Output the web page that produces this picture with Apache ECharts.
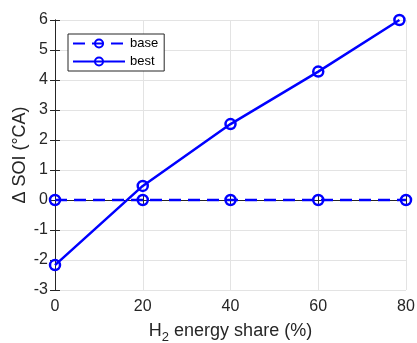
<!DOCTYPE html>
<html>
<head>
<meta charset="utf-8">
<script src="https://cdn.jsdelivr.net/npm/echarts@6/dist/echarts.min.js"></script>
<style>
html,body{margin:0;padding:0;background:#fff;}
#chart{width:417px;height:343px;}
</style>
</head>
<body>
<div id="chart"></div>
<script>
// H2 energy share (%) and change in start of injection
const shareBase = [0, 20, 40, 60, 80];
const soiBase = [0, 0, 0, 0, 0];
const shareBest = [0, 20, 40, 60, 78.5];
const soiBest = [-2.17, 0.47, 2.53, 4.28, 6.0];
const xTicks = [0, 20, 40, 60, 80];
const yTicks = [-3, -2, -1, 0, 1, 2, 3, 4, 5, 6];

const ink = '#262626';
const blue = '#0000ff';
const font = 'Liberation Sans, Arial, sans-serif';

const pairs = (xs, ys) => xs.map((x, i) => [x, ys[i]]);

const chart = echarts.init(document.getElementById('chart'), null, {renderer: 'canvas'});

const axisCommon = {
  axisLine: {show: true, lineStyle: {color: '#262626', width: 1}},
  axisTick: {show: true, inside: true, length: 5, lineStyle: {color: ink}},
  splitLine: {show: false}
};

// open circle markers: the line shows through them
const marker = {color: 'rgba(0,0,0,0)', borderColor: blue, borderWidth: 2.5};

chart.setOption({
  animation: false,
  backgroundColor: '#fff',
  grid: {left: 55, right: 11, top: 20, bottom: 53, containLabel: false, outerBoundsMode: 'none'},
  legend: {
    left: 68, top: 34,
    orient: 'vertical',
    itemWidth: 52, itemHeight: 10, itemGap: 5,
    padding: [3, 6, 3, 4],
    borderColor: ink, borderWidth: 1,
    backgroundColor: '#fff',
    textStyle: {fontFamily: font, fontSize: 13, color: '#000'},
    data: ['base', 'best']
  },
  xAxis: [{
    type: 'value', min: xTicks[0], max: xTicks[xTicks.length - 1], interval: 20,
    ...axisCommon,
    splitLine: {show: true, lineStyle: {color: '#e3e3e3', width: 1}},
    axisLabel: {color: ink, fontFamily: font, fontSize: 16, margin: 9},
    name: 'H{sub|2} energy share (%)',
    nameLocation: 'middle', nameGap: 29, nameMoveOverlap: false,
    nameTextStyle: {
      color: ink, fontFamily: font, fontSize: 18,
      rich: {sub: {fontSize: 13, padding: [12, 0, 0, 0], color: ink, fontFamily: font}}
    }
  }, {
    type: 'value', position: 'top', min: xTicks[0], max: xTicks[xTicks.length - 1], interval: 20,
    ...axisCommon, axisLabel: {show: false}
  }],
  yAxis: [{
    type: 'value', min: yTicks[0], max: yTicks[yTicks.length - 1], interval: 1,
    ...axisCommon,
    splitLine: {show: true, lineStyle: {color: '#e3e3e3', width: 1}},
    axisLabel: {color: ink, fontFamily: font, fontSize: 16, margin: 7},
    name: 'Δ SOI (°CA)',
    nameLocation: 'middle', nameGap: 26, nameMoveOverlap: false,
    nameTextStyle: {color: ink, fontFamily: font, fontSize: 18}
  }, {
    type: 'value', position: 'right', min: yTicks[0], max: yTicks[yTicks.length - 1], interval: 1,
    ...axisCommon, axisLabel: {show: false}
  }],
  series: [{
    name: 'base', type: 'line',
    data: pairs(shareBase, soiBase),
    symbol: 'circle', symbolSize: 10,
    lineStyle: {color: blue, width: 2.5, type: [12, 7]},
    itemStyle: marker,
    clip: false
  }, {
    name: 'best', type: 'line',
    data: pairs(shareBest, soiBest),
    symbol: 'circle', symbolSize: 10,
    lineStyle: {color: blue, width: 2.5},
    itemStyle: marker,
    clip: false
  }]
});
</script>
</body>
</html>
